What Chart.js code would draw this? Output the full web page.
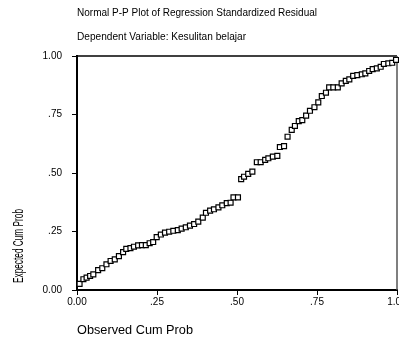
<!DOCTYPE html>
<html>
<head>
<meta charset="utf-8">
<script src="https://cdn.jsdelivr.net/npm/chart.js@4/dist/chart.umd.min.js"></script>
<style>
  html, body { margin: 0; padding: 0; background: #fff; }
</style>
</head>
<body>
<canvas id="pp" width="399" height="340"></canvas>
<script>
// values
const observed = [
  0.008, 0.020, 0.030, 0.041, 0.051, 0.066, 0.079, 0.092, 0.105, 0.118,
  0.131, 0.144, 0.154, 0.167, 0.178, 0.191, 0.203, 0.215, 0.227, 0.238,
  0.249, 0.262, 0.275, 0.288, 0.301, 0.315, 0.327, 0.340, 0.353, 0.366,
  0.379, 0.393, 0.403, 0.416, 0.428, 0.442, 0.454, 0.468, 0.480, 0.489,
  0.503, 0.513, 0.522, 0.535, 0.548, 0.562, 0.574, 0.588, 0.598, 0.612,
  0.626, 0.634, 0.647, 0.658, 0.671, 0.681, 0.693, 0.704, 0.716, 0.728,
  0.742, 0.754, 0.765, 0.778, 0.788, 0.801, 0.815, 0.827, 0.840, 0.851,
  0.863, 0.876, 0.890, 0.901, 0.913, 0.924, 0.937, 0.949, 0.959, 0.973,
  0.985, 0.997
];
const expected = [
  0.026, 0.046, 0.053, 0.060, 0.067, 0.085, 0.093, 0.110, 0.124, 0.131,
  0.145, 0.162, 0.176, 0.179, 0.185, 0.191, 0.192, 0.192, 0.200, 0.205,
  0.226, 0.237, 0.245, 0.249, 0.253, 0.256, 0.262, 0.268, 0.275, 0.282,
  0.292, 0.309, 0.330, 0.339, 0.345, 0.353, 0.362, 0.371, 0.373, 0.396,
  0.396, 0.474, 0.484, 0.496, 0.506, 0.546, 0.546, 0.556, 0.563, 0.570,
  0.573, 0.611, 0.615, 0.655, 0.684, 0.701, 0.722, 0.726, 0.745, 0.766,
  0.781, 0.802, 0.829, 0.843, 0.866, 0.866, 0.866, 0.883, 0.894, 0.900,
  0.915, 0.918, 0.922, 0.926, 0.936, 0.944, 0.947, 0.954, 0.966, 0.969,
  0.971, 0.983
];
const tickValues = [0, 0.25, 0.5, 0.75, 1];
const xTickLabels = ["0.00", ".25", ".50", ".75", "1.00"];
const yTickLabels = ["0.00", ".25", ".50", ".75", "1.00"];
const titleLines = [
  "Normal P-P Plot of Regression Standardized Residual",
  "Dependent Variable: Kesulitan belajar"
];
const xTitle = "Observed Cum Prob";
const yTitle = "Expected Cum Prob";

const FONT = "'Liberation Sans', Arial, sans-serif";

// draw text squeezed/stretched to a given width
function fitText(ctx, text, x, y, width, size) {
  ctx.font = size + "px " + FONT;
  const w = ctx.measureText(text).width;
  ctx.save();
  ctx.translate(x, y);
  ctx.scale(width / w, 1);
  ctx.fillText(text, 0, 0);
  ctx.restore();
}

// chart.js would otherwise pad the plot for label overflow
const noPad = s => { s.paddingLeft = 0; s.paddingRight = 0; s.paddingTop = 0; s.paddingBottom = 0; };

const framePlugin = {
  id: "frame",
  beforeDatasetsDraw(chart) {
    const { ctx, chartArea: a } = chart;
    ctx.save();
    ctx.lineWidth = 1.5;
    ctx.strokeStyle = "#000";
    ctx.beginPath();
    ctx.moveTo(a.left, a.top);
    ctx.lineTo(a.right, a.top);
    ctx.stroke();
    ctx.strokeStyle = "#555";
    ctx.beginPath();
    ctx.moveTo(a.right, a.top);
    ctx.lineTo(a.right, a.bottom);
    ctx.stroke();
    ctx.restore();
  },
  afterDraw(chart) {
    const ctx = chart.ctx;
    ctx.save();
    ctx.fillStyle = "#000";
    ctx.textBaseline = "middle";
    ctx.textAlign = "left";
    fitText(ctx, titleLines[0], 77, 13, 240, 10);
    fitText(ctx, titleLines[1], 77, 37, 169, 10);
    fitText(ctx, xTitle, 77, 331, 116, 12);
    ctx.translate(19, 246);
    ctx.rotate(-Math.PI / 2);
    ctx.textAlign = "center";
    ctx.font = "14px " + FONT;
    const w = ctx.measureText(yTitle).width;
    ctx.scale(74 / w, 1);
    ctx.fillText(yTitle, 0, 0);
    ctx.restore();
  }
};

new Chart(document.getElementById("pp"), {
  type: "scatter",
  data: {
    datasets: [{
      data: observed.map((x, i) => ({ x, y: expected[i] })),
      pointStyle: "rect",
      pointRadius: 3.5,
      pointHoverRadius: 3.5,
      pointBorderWidth: 1.2,
      pointBorderColor: "#000",
      pointBackgroundColor: "#fff",
      clip: false
    }]
  },
  options: {
    responsive: false,
    animation: false,
    events: [],
    layout: { autoPadding: false, padding: { left: 0, top: 56, right: 2, bottom: 0 } },
    plugins: { legend: { display: false }, tooltip: { enabled: false } },
    scales: {
      x: {
        type: "linear",
        min: 0,
        max: 1,
        afterBuildTicks: s => { s.ticks = tickValues.map(v => ({ value: v })); },
        afterFit: s => { s.height = 50; noPad(s); },
        ticks: {
          autoSkip: false,
          maxRotation: 0,
          padding: 1,
          color: "#000",
          font: { family: FONT, size: 10 },
          callback: (v, i) => xTickLabels[i]
        },
        grid: { drawOnChartArea: false, drawTicks: true, tickLength: 5, tickColor: "#000", tickWidth: 1 },
        border: { display: true, color: "#000", width: 2 }
      },
      y: {
        type: "linear",
        min: 0,
        max: 1,
        afterBuildTicks: s => { s.ticks = tickValues.map(v => ({ value: v })); },
        afterFit: s => { s.width = 77; noPad(s); },
        ticks: {
          autoSkip: false,
          padding: 10,
          color: "#000",
          font: { family: FONT, size: 10 },
          callback: (v, i) => yTickLabels[i]
        },
        grid: { drawOnChartArea: false, drawTicks: true, tickLength: 5, tickColor: "#000", tickWidth: 1 },
        border: { display: true, color: "#000", width: 2 }
      }
    }
  },
  plugins: [framePlugin]
});
</script>
</body>
</html>
